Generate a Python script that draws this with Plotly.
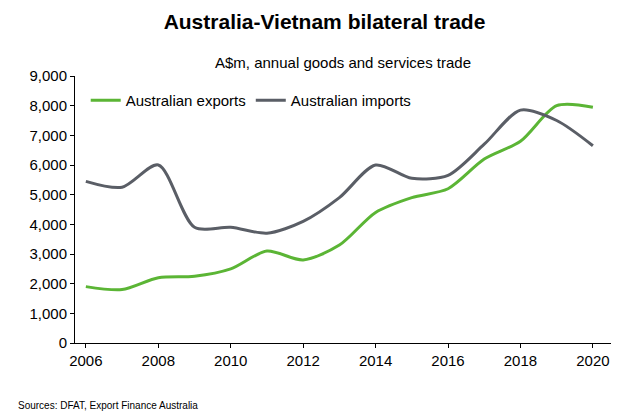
import plotly.graph_objects as go

years = list(range(2006, 2021))
exports = [1900, 1800, 2200, 2250, 2500, 3100, 2800, 3300, 4400, 4900, 5200, 6200, 6800, 8000, 7950]
imports = [5450, 5250, 6000, 3900, 3900, 3700, 4100, 4900, 6000, 5550, 5650, 6700, 7850, 7500, 6650]

fig = go.Figure()
fig.add_trace(go.Scatter(x=years, y=exports, mode="lines", name="Australian exports",
                         line=dict(color="#5bb535", width=3, shape="spline", smoothing=0.8)))
fig.add_trace(go.Scatter(x=years, y=imports, mode="lines", name="Australian imports",
                         line=dict(color="#5a5e66", width=3, shape="spline", smoothing=0.8)))

fig.update_layout(
    width=633, height=416, paper_bgcolor="white", plot_bgcolor="white",
    margin=dict(l=67, r=30, t=68, b=81),
    font=dict(family="Liberation Sans, Arial", size=15, color="black"),
    title=dict(text="<b>Australia-Vietnam bilateral trade</b>", x=0.5, xanchor="center",
               y=0.985, yanchor="top", font=dict(size=21)),
    annotations=[
        dict(text="A$m, annual goods and services trade", xref="paper", yref="paper",
             x=0.5, y=1.0, yshift=14, xanchor="center", yanchor="middle", showarrow=False,
             font=dict(size=15)),
        dict(text="Sources: DFAT, Export Finance Australia", xref="paper", yref="paper",
             x=-0.11, y=0, yshift=-62, xanchor="left", yanchor="middle", showarrow=False,
             font=dict(size=10)),
    ],
    legend=dict(orientation="h", x=0.02, y=0.97, xanchor="left", yanchor="top",
                bgcolor="rgba(0,0,0,0)", font=dict(size=15)),
    xaxis=dict(range=[2005.7, 2020.5], tickvals=list(range(2006, 2021, 2)), showgrid=False,
               showline=True, linecolor="black", ticks="outside", ticklen=4, tickcolor="black",
               tickfont=dict(size=15)),
    yaxis=dict(range=[0, 9000], tickvals=list(range(0, 9001, 1000)), tickformat=",",
               showgrid=False, showline=True, linecolor="black", ticks="outside", ticklen=4,
               tickcolor="black", tickfont=dict(size=15)),
)
fig.write_html("out.html")
